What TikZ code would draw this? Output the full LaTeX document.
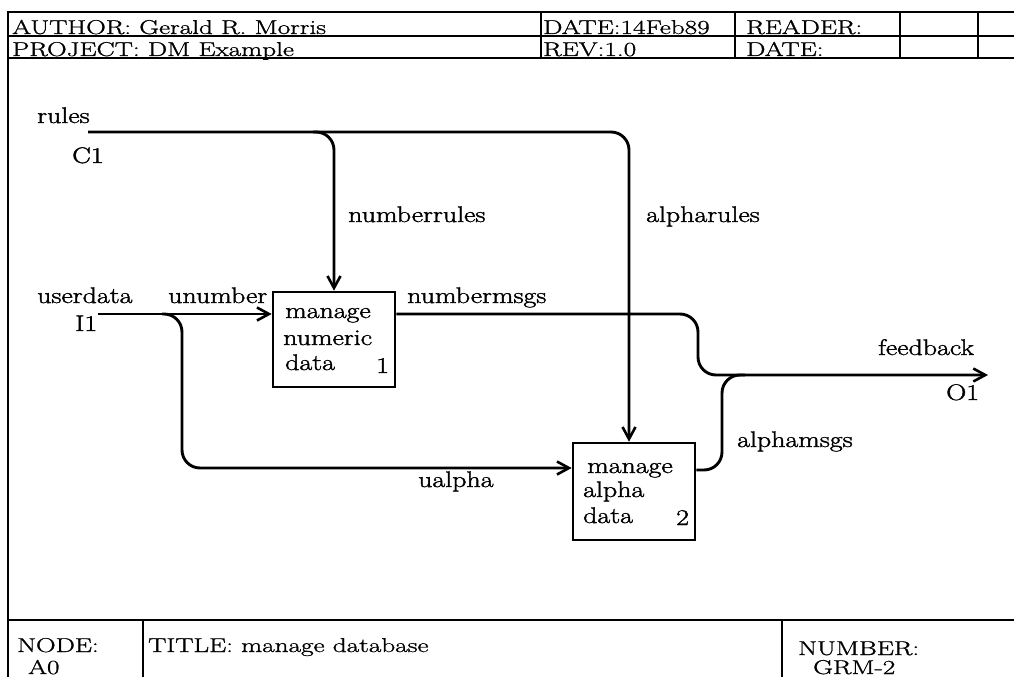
\documentclass[tikz,border=0pt]{standalone}
\usepackage{fontspec}
\newfontfamily\dfont{Latin Modern Roman}[FakeBold=1.5]
\newfontfamily\hfont{Latin Modern Roman}[FakeBold=1]
\usetikzlibrary{arrows.meta}
\newcommand\htx[1]{\scalebox{1.36}[1]{#1}}
\newcommand\dtx[1]{\scalebox{1.24}[1]{#1}}
\begin{document}
\begin{tikzpicture}[x=1pt,y=-1pt,
  hdr/.style={anchor=base west, inner sep=0pt, font=\hfont\fontsize{20}{22}\selectfont},
  lbl/.style={anchor=base west, inner sep=0pt, font=\dfont\fontsize{22.5}{24}\selectfont},
  flow/.style={line width=2.9pt, rounded corners=18pt},
  arr/.style={-{Straight Barb[length=12pt,width=13pt,line width=2.6pt]}},
  framel/.style={line width=2pt},
  activity/.style={draw, line width=2.6pt, minimum width=122pt, minimum height=95pt, inner sep=0pt}
]
\useasboundingbox (0,0) rectangle (1014,677);
% ---------- frame / header ----------
\draw[framel] (1014,12) -- (8,12) -- (8,677);
\draw[framel] (8,36) -- (1014,36);
\draw[framel] (8,58) -- (1014,58);
\draw[framel] (541,12) -- (541,58);
\draw[framel] (735,12) -- (735,58);
\draw[framel] (900,12) -- (900,58);
\draw[framel] (978,12) -- (978,58);
\node[hdr] (author) at (12,34) {\htx{AUTHOR: Gerald R. Morris}};
\node[hdr] (project) at (12,56) {\htx{PROJECT: DM Example}};
\node[hdr] (date) at (543,34) {\htx{DATE:14Feb89}};
\node[hdr] (rev) at (543,56) {\htx{REV:1.0}};
\node[hdr] (reader) at (746,34) {\htx{READER:}};
\node[hdr] (rdate) at (746,56) {\htx{DATE:}};
% ---------- footer ----------
\draw[framel] (8,620) -- (1014,620);
\draw[framel] (143,620) -- (143,677);
\draw[framel] (782,620) -- (782,677);
\node[hdr] (nodelbl) at (17,652) {\htx{NODE:}};
\node[hdr] (nodeval) at (28,674) {\htx{A0}};
\node[hdr] (title) at (148,652) {\htx{TITLE: manage database}};
\node[hdr] (numlbl) at (798,655) {\htx{NUMBER:}};
\node[hdr] (numval) at (813,674) {\htx{GRM-2}};
% ---------- activities ----------
\node[activity] (b1) at (334,339.5) {};
\node[activity, minimum height=97pt] (b2) at (634,491.5) {};
\node[lbl] (b1a) at (285,318) {\dtx{manage}};
\node[lbl] (b1b) at (283,345) {\dtx{numeric}};
\node[lbl] (b1c) at (285,370) {\dtx{data}};
\node[lbl] (b1n) at (376,373) {\dtx{1}};
\node[lbl] (b2a) at (587,473) {\dtx{manage}};
\node[lbl] (b2b) at (583,497) {\dtx{alpha}};
\node[lbl] (b2c) at (583,523) {\dtx{data}};
\node[lbl] (b2n) at (676,525) {\dtx{2}};
% ---------- coordinates ----------
\coordinate (rulesIn) at (88,132);
\coordinate (rulesSplit) at (313,132);
\coordinate (rulesTurn) at (629,132);
\coordinate (udIn) at (98,314);
\coordinate (udSplit) at (162,314);
\coordinate (udTurn) at (182,314);
\coordinate (uaBend) at (182,468);
\coordinate (nmTurn) at (698,314);
\coordinate (nmDown) at (698,375);
\coordinate (fbOut) at (988,375);
\coordinate (amOut) at (722,470);
\coordinate (amUp) at (722,375);
\coordinate (amJoin) at (745,375);
% ---------- connectors ----------
\draw[flow, arr] (rulesIn) -- (rulesTurn) -- ([xshift=-5pt]b2.north);
\draw[flow, arr] (rulesSplit) -- (b1.north |- rulesIn) -- (b1.north);
\draw[flow, arr] (udIn) -- (b1.west |- udIn);
\draw[flow, arr] (udSplit) -- (udTurn) -- (uaBend) -- (b2.west |- uaBend);
\draw[flow, arr] (b1.east |- udIn) -- (nmTurn) -- (nmDown) -- (fbOut);
\draw[flow] (b2.east |- amOut) -- (amOut) -- (amUp) -- (amJoin);
% ---------- labels ----------
\node[lbl] (rules) at (37,123) {\dtx{rules}};
\node[lbl] (c1) at (72,163) {\dtx{C1}};
\node[lbl] (nrules) at (348,222) {\dtx{numberrules}};
\node[lbl] (arules) at (646,222) {\dtx{alpharules}};
\node[lbl] (userdata) at (37,303) {\dtx{userdata}};
\node[lbl] (i1) at (75,331) {\dtx{I1}};
\node[lbl] (unumber) at (168,303) {\dtx{unumber}};
\node[lbl] (nmsgs) at (407,303) {\dtx{numbermsgs}};
\node[lbl] (ualpha) at (418,487) {\dtx{ualpha}};
\node[lbl] (feedback) at (878,355) {\dtx{feedback}};
\node[lbl] (o1) at (946,400) {\dtx{O1}};
\node[lbl] (amsgs) at (737,447) {\dtx{alphamsgs}};
\end{tikzpicture}
\end{document}
